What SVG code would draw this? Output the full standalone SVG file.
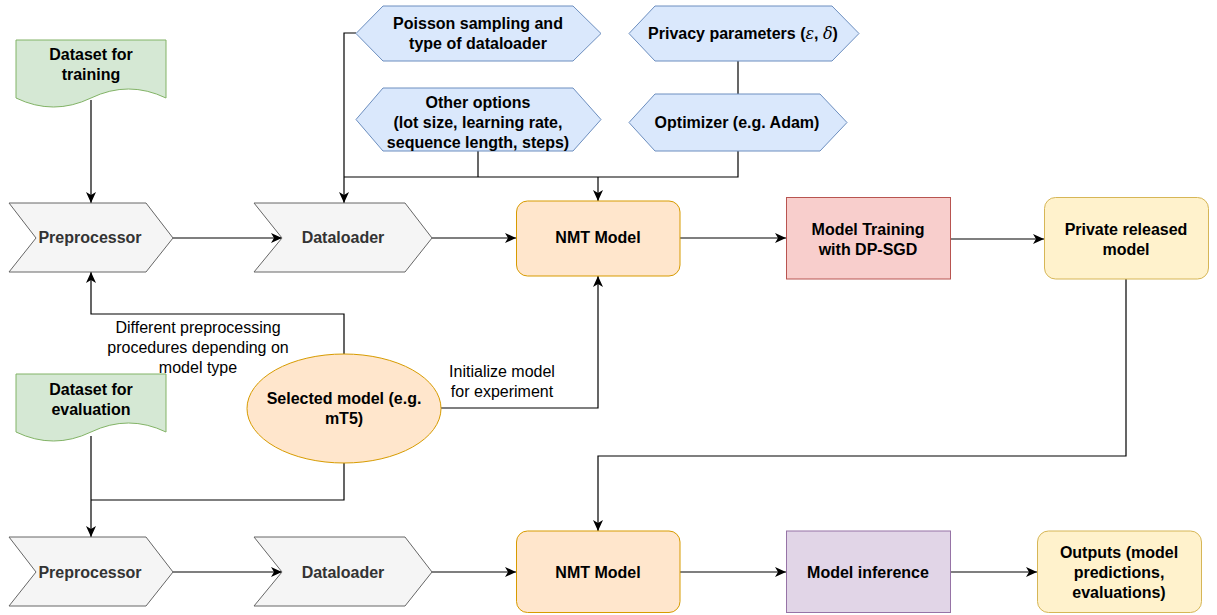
<svg xmlns="http://www.w3.org/2000/svg" width="1217" height="615" viewBox="0 0 1217 615">
<style>
text{font-family:"Liberation Sans",Arial,Helvetica,sans-serif;font-size:16px;text-anchor:middle;fill:#000}
.b{font-weight:bold}
.g{fill:#333333}
.chev{fill:#f5f5f5;stroke:#666666;stroke-width:1}
.doc{fill:#d5e8d4;stroke:#82b366;stroke-width:1}
.hex{fill:#dae8fc;stroke:#6c8ebf;stroke-width:1}
.org{fill:#ffe6cc;stroke:#d79b00;stroke-width:1}
.yel{fill:#fff2cc;stroke:#d6b656;stroke-width:1}
.red{fill:#f8cecc;stroke:#b85450;stroke-width:1}
.pur{fill:#e1d5e7;stroke:#9673a6;stroke-width:1}
.e{fill:none;stroke:#000;stroke-width:1.2}
.a{marker-end:url(#arr)}
.m{font-family:"DejaVu Serif","Liberation Serif",serif;font-style:italic;font-weight:normal}
</style>
<defs>
<marker id="arr" viewBox="0 0 11 10" refX="11" refY="5" markerWidth="11" markerHeight="10" markerUnits="userSpaceOnUse" orient="auto">
<path d="M0,0 L11,5 L0,10 L3,5 Z" fill="#000"/>
</marker>
</defs>

<g id="connectors">
<path class="e a" d="M91,100 V203"/>
<path class="e a" d="M173,238 H282"/>
<path class="e a" d="M432,238 H516"/>
<path class="e a" d="M680,238 H786"/>
<path class="e a" d="M951,239 H1044"/>
<path class="e a" d="M356,33 H344 V203"/>
<path class="e" d="M478,151 V177"/>
<path class="e" d="M738,61 V94"/>
<path class="e" d="M738,151 V177 H344"/>
<path class="e a" d="M598,177 V201"/>
<path class="e a" d="M344,354 V314 H91 V272"/>
<path class="e a" d="M441,408 H598 V276"/>
<path class="e a" d="M1126,279 V456 H598 V531"/>
<path class="e a" d="M91,436 V537"/>
<path class="e" d="M344,463 V500 H91"/>
<path class="e a" d="M173,572 H282"/>
<path class="e a" d="M432,572 H516"/>
<path class="e a" d="M680,572 H786"/>
<path class="e a" d="M951,572 H1037"/>
<text x="198" y="333">Different preprocessing</text>
<text x="198" y="353">procedures depending on</text>
<text x="198" y="373">model type</text>
<text x="502" y="377">Initialize model</text>
<text x="502" y="397">for experiment</text>
</g>

<g id="dataset-training">
<path class="doc" d="M16,40 H166 V98 Q128.5,80 91,98 Q53.5,116 16,98 Z"/>
<text class="b" x="91" y="60">Dataset for</text>
<text class="b" x="91" y="80">training</text>
</g>

<g id="preprocessor-train">
<path class="chev" d="M9,203 H146 L173,238 L146,272 H9 L36,238 Z"/>
<text class="b g" x="90" y="243">Preprocessor</text>
</g>

<g id="dataloader-train">
<path class="chev" d="M254,203 H405 L432,238 L405,272 H254 L282,238 Z"/>
<text class="b g" x="343" y="243">Dataloader</text>
</g>

<g id="poisson">
<path class="hex" d="M356,33.5 L383,6 H573 L601,33.5 L573,61 H383 Z"/>
<text class="b" x="478" y="29">Poisson sampling and</text>
<text class="b" x="478" y="49">type of dataloader</text>
</g>

<g id="other-options">
<path class="hex" d="M356,119.5 L383,88 H573 L601,119.5 L573,151 H383 Z"/>
<text class="b" x="478" y="108">Other options</text>
<text class="b" x="478" y="128">(lot size, learning rate,</text>
<text class="b" x="478" y="148">sequence length, steps)</text>
</g>

<g id="privacy">
<path class="hex" d="M629,33.5 L655,6 H832 L859,33.5 L832,61 H655 Z"/>
<text class="b" x="743" y="39">Privacy parameters (<tspan class="m">ε</tspan>, <tspan class="m">δ</tspan>)</text>
</g>

<g id="optimizer">
<path class="hex" d="M629,122.5 L655,94 H820 L847,122.5 L820,151 H655 Z"/>
<text class="b" x="737" y="128">Optimizer (e.g. Adam)</text>
</g>

<g id="nmt-train">
<rect class="org" x="516.5" y="201" width="163.5" height="75" rx="11"/>
<text class="b" x="598" y="243">NMT Model</text>
</g>

<g id="training">
<rect class="red" x="786.5" y="197.5" width="164" height="81.5"/>
<text class="b" x="868" y="235">Model Training</text>
<text class="b" x="868" y="255">with DP-SGD</text>
</g>

<g id="private-model">
<rect class="yel" x="1044.5" y="197.5" width="164" height="81.5" rx="11"/>
<text class="b" x="1126" y="235">Private released</text>
<text class="b" x="1126" y="255">model</text>
</g>

<g id="selected-model">
<ellipse class="org" cx="344" cy="408.5" rx="97" ry="54.5"/>
<text class="b" x="344" y="404">Selected model (e.g.</text>
<text class="b" x="344" y="424">mT5)</text>
</g>

<g id="dataset-eval">
<path class="doc" d="M16,374 H166 V432 Q128.5,414 91,432 Q53.5,450 16,432 Z"/>
<text class="b" x="91" y="395">Dataset for</text>
<text class="b" x="91" y="415">evaluation</text>
</g>

<g id="preprocessor-eval">
<path class="chev" d="M9,537 H146 L173,572 L146,606 H9 L36,572 Z"/>
<text class="b g" x="90" y="578">Preprocessor</text>
</g>

<g id="dataloader-eval">
<path class="chev" d="M254,537 H405 L432,572 L405,606 H254 L282,572 Z"/>
<text class="b g" x="343" y="578">Dataloader</text>
</g>

<g id="nmt-eval">
<rect class="org" x="516.5" y="531" width="163.5" height="81.5" rx="11"/>
<text class="b" x="598" y="578">NMT Model</text>
</g>

<g id="inference">
<rect class="pur" x="786.5" y="531" width="164" height="81.5"/>
<text class="b" x="868" y="578">Model inference</text>
</g>

<g id="outputs">
<rect class="yel" x="1037.5" y="531" width="164" height="81.5" rx="11"/>
<text class="b" x="1119" y="558">Outputs (model</text>
<text class="b" x="1119" y="578">predictions,</text>
<text class="b" x="1119" y="598">evaluations)</text>
</g>
</svg>
